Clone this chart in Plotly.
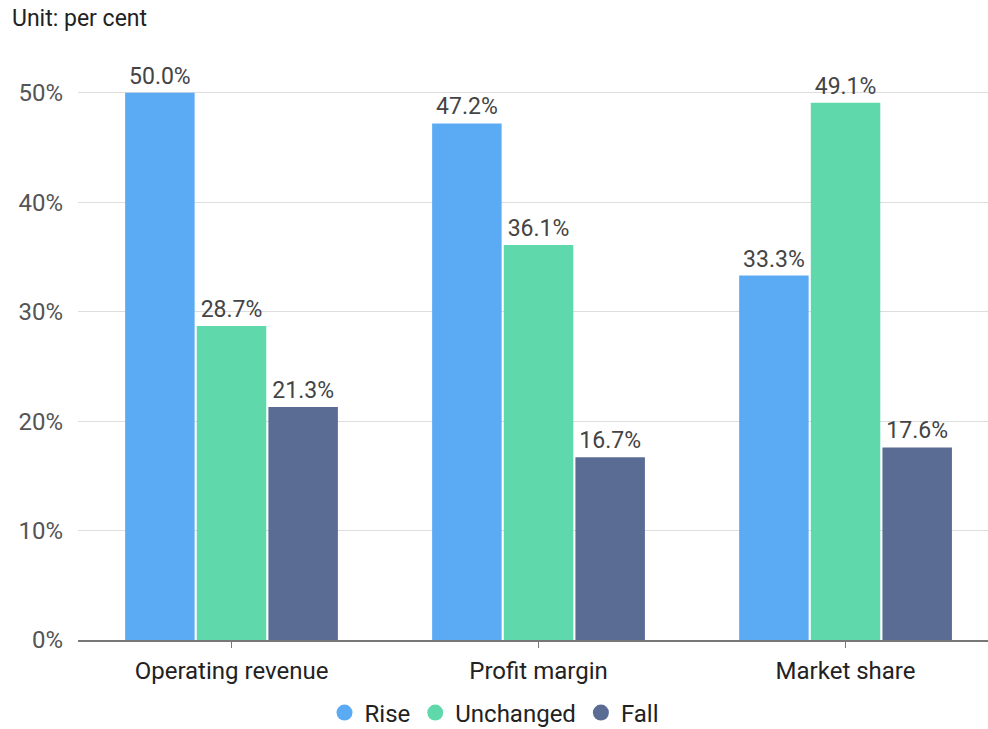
import plotly.graph_objects as go

categories = ["Operating revenue", "Profit margin", "Market share"]
rise = [50.0, 47.2, 33.3]
unchanged = [28.7, 36.1, 49.1]
fall = [21.3, 16.7, 17.6]
series_names = ["Rise", "Unchanged", "Fall"]
colors = ["#5aabf4", "#5fd9ab", "#5a6b94"]

fig = go.Figure()
for name, vals, col in zip(series_names, [rise, unchanged, fall], colors):
    fig.add_trace(go.Bar(
        x=categories, y=vals, name=name, marker=dict(color=col, line=dict(width=0)),
        text=[f"{v:.1f}%" for v in vals], textposition="outside",
        textfont=dict(size=23, color="#444444", family="Roboto"),
        cliponaxis=False, showlegend=False,
    ))
for name, col in zip(series_names, colors):
    fig.add_trace(go.Scatter(
        x=[None], y=[None], mode="markers", name=name,
        marker=dict(symbol="circle", size=21, color=col),
    ))

fig.update_layout(
    width=988, height=729,
    margin=dict(l=78, r=0, t=49, b=89),
    paper_bgcolor="white", plot_bgcolor="white",
    font=dict(family="Roboto", color="#222222"),
    barmode="group", bargap=0.3, bargroupgap=0.03,
    showlegend=True,
    legend=dict(orientation="h", xref="container", yref="container",
                x=0.500, y=0.022, xanchor="center", yanchor="middle",
                font=dict(size=24, color="#222222"), itemwidth=30,
                tracegroupgap=0),
    xaxis=dict(range=[-0.5, 2.464], showgrid=False, showline=True,
               linecolor="#777777", linewidth=1.5, ticks="outside",
               ticklen=6, tickcolor="#777777",
               tickfont=dict(size=24, color="#222222"), ticklabelstandoff=2),
    yaxis=dict(range=[0, 54], tickvals=[0, 10, 20, 30, 40, 50],
               ticktext=["0%", "10%", "20%", "30%", "40%", "50%"],
               showgrid=True, gridcolor="#dddddd", gridwidth=1,
               zeroline=False, showline=False,
               tickfont=dict(size=24, color="#555555"), ticklabelstandoff=14),
    annotations=[dict(text="Unit: per cent", xref="paper", yref="paper",
                      x=-68/910, y=1 + (49-18)/591, xanchor="left", yanchor="middle",
                      showarrow=False, font=dict(size=23, color="#222222"))],
)

fig.write_html("out.html", config={"displayModeBar": False},
               post_script="document.body.style.margin='0';")
